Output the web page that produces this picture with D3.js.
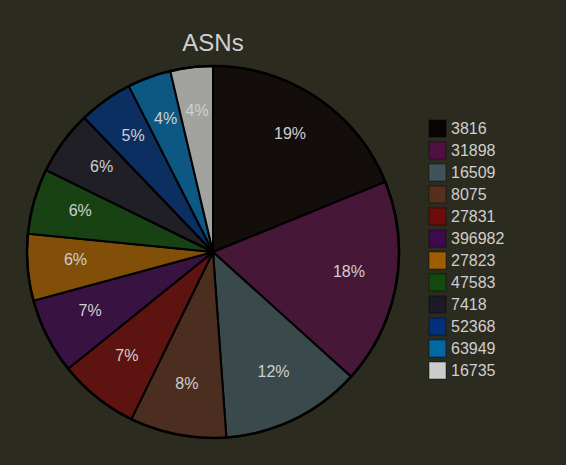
<!DOCTYPE html>
<html>
<head>
<meta charset="utf-8">
<script src="https://cdn.jsdelivr.net/npm/d3@7"></script>
<style>
	body { margin: 0; background: #2b2b1f; }
	svg { display: block; font-family: "Liberation Sans", Arial, sans-serif; }
</style>
</head>
<body>
<div id="chart"></div>
<script>
// ASN counts, sorted descending
const asns = ["3816", "31898", "16509", "8075", "27831", "396982", "27823", "47583", "7418", "52368", "63949", "16735"]
const counts = [189, 179, 122, 84, 70, 66, 58, 57, 56, 47, 38, 37]
const colors = ["#0b0404", "#501040", "#40535a", "#562f1f", "#6e0c0c", "#3d0a4d", "#a05c02", "#134a10", "#1b1b27", "#02307a", "#0268a4", "#cccccc"]

const svgWidth = 566, svgHeight = 465
const cx = 213, cy = 252, radius = 186

let data = asns.map((a, i) => ({ asn: a, count: counts[i] }))
let total = d3.sum(counts)

let color = d3.scaleOrdinal().domain(asns).range(colors)

let svg = d3.select("#chart")
	.append("svg")
	.attr("width", svgWidth)
	.attr("height", svgHeight)

svg.append("rect")
	.attr("width", svgWidth)
	.attr("height", svgHeight)
	.attr("fill", "#2b2b1f")

// title
svg.append("text")
	.attr("x", cx)
	.attr("y", 51)
	.attr("text-anchor", "middle")
	.attr("font-size", "24px")
	.attr("fill", "#cfcfcf")
	.text("ASNs")

let pie = d3.pie().sort(null).value(d => d.count)
let arc = d3.arc().innerRadius(0).outerRadius(radius)
let labelArc = d3.arc().innerRadius(138).outerRadius(138)

let g = svg.append("g")
	.attr("transform", "translate(" + cx + "," + cy + ")")

g.selectAll("path.slice")
	.data(pie(data))
	.enter()
	.append("path")
	.attr("class", "slice")
	.attr("d", arc)
	.attr("fill", d => color(d.data.asn))
	.attr("fill-opacity", 0.74)
	.attr("stroke", "#000")
	.attr("stroke-width", 2)

// outer ring
g.append("circle")
	.attr("r", radius)
	.attr("fill", "none")
	.attr("stroke", "#000")
	.attr("stroke-width", 2.5)

g.selectAll("text.pct")
	.data(pie(data))
	.enter()
	.append("text")
	.attr("class", "pct")
	.attr("transform", d => "translate(" + labelArc.centroid(d) + ")")
	.attr("dy", "0.08em")
	.attr("text-anchor", "middle")
	.attr("font-size", "16px")
	.attr("fill", "#cfcfcf")
	.text(d => Math.round(d.data.count / total * 100) + "%")

// legend
let legend = svg.append("g")
	.attr("transform", "translate(429,120)")

let rows = legend.selectAll("g.row")
	.data(asns)
	.enter()
	.append("g")
	.attr("class", "row")
	.attr("transform", (d, i) => "translate(0," + (i * 22) + ")")

rows.append("rect")
	.attr("width", 17)
	.attr("height", 17)
	.attr("fill", d => color(d))
	.attr("stroke", "#000")
	.attr("stroke-opacity", 0.3)
	.attr("stroke-width", 1.5)

rows.append("text")
	.attr("x", 22)
	.attr("y", 14)
	.attr("font-size", "16px")
	.attr("fill", "#cfcfcf")
	.text(d => d)
</script>
</body>
</html>
